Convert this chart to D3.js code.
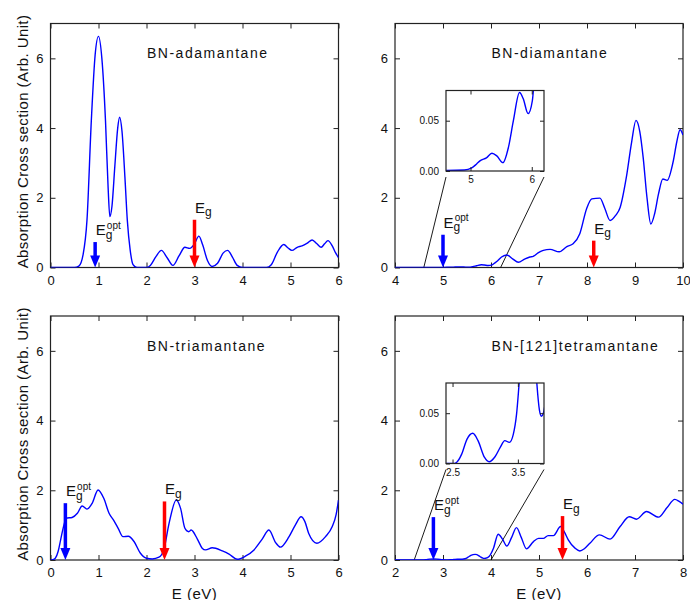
<!DOCTYPE html>
<html>
<head>
<meta charset="utf-8">
<script src="https://cdn.jsdelivr.net/npm/d3@7"></script>
<style>
	body { margin: 0; background: #fff; }
	text { font-family: Arial, "Liberation Sans", sans-serif; fill: #111; }
</style>
</head>
<body>
<svg id="chart" width="690" height="600"></svg>
<script>
// panel titles and axis ranges
const names = ['BN-adamantane', 'BN-diamantane', 'BN-triamantane', 'BN-[121]tetramantane'];
const xDomains = [[0, 6], [4, 10], [0, 6], [2, 8]];
const xTicks = [[0, 1, 2, 3, 4, 5, 6], [4, 5, 6, 7, 8, 9, 10], [0, 1, 2, 3, 4, 5, 6], [2, 3, 4, 5, 6, 7, 8]];
const yDomain = [0, 7];
const yTicks = [0, 2, 4, 6];

// absorption spectra, [E (eV), cross section]
const adamantane = [[0,0],[0.5,0],[0.59,0.04],[0.68,0.38],[0.76,1.36],[0.85,4.2],[0.93,6.1],[1.0,6.63],[1.07,6.0],[1.146,4.2],[1.2,2.3],[1.236,1.46],[1.28,1.75],[1.34,2.9],[1.4,4.0],[1.44,4.31],[1.49,3.9],[1.55,2.6],[1.6,1.36],[1.66,0.5],[1.72,0.08],[1.8,0],[2.0,0],[2.08,0.06],[2.2,0.32],[2.31,0.49],[2.43,0.28],[2.55,0.06],[2.68,0.34],[2.8,0.58],[2.9,0.55],[3.0,0.68],[3.09,0.9],[3.17,0.65],[3.27,0.2],[3.37,0.03],[3.48,0.12],[3.6,0.42],[3.69,0.49],[3.79,0.3],[3.89,0.06],[4.0,0],[4.5,0],[4.6,0.08],[4.73,0.45],[4.86,0.66],[4.95,0.56],[5.03,0.49],[5.14,0.58],[5.24,0.62],[5.35,0.7],[5.45,0.79],[5.55,0.68],[5.64,0.58],[5.71,0.68],[5.78,0.77],[5.87,0.62],[5.94,0.42],[6.0,0.28]];
const diamantane = [[4.0,0],[4.9,0.001],[5.02,0.003],[5.1,0.007],[5.16,0.0103],[5.26,0.013],[5.35,0.0177],[5.43,0.015],[5.53,0.0083],[5.62,0.0237],[5.7,0.05],[5.8,0.078],[5.86,0.072],[5.94,0.057],[6.01,0.07],[6.05,0.1],[6.12,0.17],[6.22,0.3],[6.33,0.36],[6.45,0.25],[6.57,0.15],[6.7,0.24],[6.81,0.3],[6.88,0.32],[6.98,0.42],[7.09,0.49],[7.23,0.52],[7.42,0.45],[7.58,0.6],[7.71,0.68],[7.85,0.97],[7.99,1.68],[8.1,1.97],[8.27,1.99],[8.37,1.7],[8.48,1.35],[8.6,1.5],[8.69,1.72],[8.82,2.59],[8.93,3.6],[9.02,4.22],[9.1,3.9],[9.17,3.16],[9.25,2.0],[9.33,1.25],[9.41,1.55],[9.49,2.11],[9.58,2.54],[9.67,2.5],[9.8,3.07],[9.87,3.6],[9.94,3.95],[10.0,3.8]];
const triamantane = [[0,0],[0.05,0.01],[0.1,0.05],[0.16,0.25],[0.21,0.57],[0.27,0.95],[0.33,1.2],[0.45,1.22],[0.56,1.34],[0.66,1.55],[0.76,1.46],[0.87,1.63],[0.99,2.01],[1.11,1.77],[1.22,1.34],[1.32,1.13],[1.41,0.91],[1.51,0.67],[1.62,0.68],[1.74,0.53],[1.87,0.2],[2.0,0.05],[2.12,0.03],[2.26,0.08],[2.36,0.29],[2.47,1.05],[2.62,1.72],[2.71,1.48],[2.8,0.91],[2.88,0.81],[2.93,0.86],[3.06,0.6],[3.16,0.34],[3.23,0.29],[3.37,0.35],[3.58,0.26],[3.72,0.17],[3.89,0.02],[4.06,0.11],[4.24,0.29],[4.41,0.6],[4.55,0.86],[4.69,0.5],[4.79,0.37],[4.97,0.67],[5.1,1.0],[5.22,1.24],[5.3,1.1],[5.38,0.76],[5.55,0.48],[5.73,0.67],[5.87,0.96],[5.95,1.3],[6.0,1.72]];
const tetramantane = [[2.0,0],[2.4,0],[2.51,0],[2.56,0.001],[2.64,0.0093],[2.72,0.024],[2.81,0.03],[2.89,0.0227],[2.99,0.006],[3.06,0.0017],[3.15,0.0067],[3.23,0.016],[3.3,0.0227],[3.37,0.021],[3.43,0.029],[3.48,0.049],[3.52,0.08],[3.58,0.13],[3.67,0.16],[3.75,0.12],[3.79,0.08],[3.83,0.053],[3.86,0.047],[3.89,0.05],[3.96,0.1],[4.05,0.33],[4.15,0.74],[4.24,0.6],[4.33,0.4],[4.43,0.65],[4.53,0.93],[4.63,0.65],[4.74,0.32],[4.88,0.52],[4.99,0.62],[5.09,0.62],[5.19,0.7],[5.3,0.7],[5.45,0.96],[5.53,0.8],[5.61,0.58],[5.75,0.34],[5.85,0.26],[5.95,0.33],[6.06,0.48],[6.26,0.72],[6.48,0.6],[6.69,0.96],[6.88,1.24],[7.03,1.17],[7.24,1.39],[7.49,1.23],[7.66,1.49],[7.83,1.74],[7.92,1.68],[8.0,1.6]];
const spectra = [adamantane, diamantane, triamantane, tetramantane];

// gap markers: arrow energy and arrow top (in y units)
const optGapE = [0.93, 5.0, 0.31, 2.8];
const optGapTop = [0.73, 0.94, 1.63, 1.23];
const gapE = [3.0, 8.14, 2.375, 5.49];
const gapTop = [1.37, 0.77, 1.68, 1.26];

// insets (zoom of the onset), null where there is none
const insetXDomains = [null, [4.6, 6.2], null, [2.4, 3.9]];
const insetXTicks = [null, [5, 6], null, [2.5, 3.5]];
const insetYDomain = [0, 0.08];
const insetYTicks = [0, 0.05];
const zoomTo = [null, [4.6, 6.2], null, [2.4, 4.0]];

// layout
const cols = [50.5, 395];
const rows = [23.5, 316];
const pw = 288, ph = 244;
const insetBox = {x: 446, w: 98, h: 80.5, dy: 67};

const svg = d3.select('#chart');
const defs = svg.append('defs');

const line = d3.line()
	.curve(d3.curveMonotoneX)
	.x(d => d[0]);

spectra.forEach((data, i) => {
	const left = cols[i % 2];
	const top = rows[Math.floor(i / 2)];

	const xScale = d3.scaleLinear().domain(xDomains[i]).range([0, pw]);
	const yScale = d3.scaleLinear().domain(yDomain).range([ph, 0]);

	const g = svg.append('g').attr('transform', `translate(${left},${top})`);

	defs.append('clipPath').attr('id', 'clip' + i)
		.append('rect').attr('width', pw).attr('height', ph);

	// axes, ticks pointing inwards on all four sides
	addAxes(g, xScale, yScale, xTicks[i], yTicks, 5, 13, d3.format('d'), d3.format('d'), 8, 7);

	// inset with connector lines
	if (insetXDomains[i]) {
		const ix = insetBox.x - left;
		const iy = insetBox.dy;
		const zs = zoomTo[i];
		g.append('g').selectAll('line')
			.data([[0, zs[0]], [insetBox.w, zs[1]]])
			.enter()
			.append('line')
				.attr('x1', d => ix + d[0])
				.attr('y1', iy + insetBox.h + 6)
				.attr('x2', d => xScale(d[1]))
				.attr('y2', yScale(0))
				.attr('stroke', '#000')
				.attr('stroke-width', 0.9);

		const ixScale = d3.scaleLinear().domain(insetXDomains[i]).range([0, insetBox.w]);
		const iyScale = d3.scaleLinear().domain(insetYDomain).range([insetBox.h, 0]);
		const ig = g.append('g').attr('transform', `translate(${ix},${iy})`);

		defs.append('clipPath').attr('id', 'iclip' + i)
			.append('rect').attr('width', insetBox.w).attr('height', insetBox.h);

		ig.append('rect')
			.attr('width', insetBox.w)
			.attr('height', insetBox.h)
			.attr('fill', '#fff');

		ig.append('path')
			.attr('clip-path', `url(#iclip${i})`)
			.attr('fill', 'none')
			.attr('stroke', '#0000ff')
			.attr('stroke-width', 1.4)
			.attr('d', line.x(d => ixScale(d[0])).y(d => iyScale(d[1]))(data));

		addAxes(ig, ixScale, iyScale, insetXTicks[i], insetYTicks, 4, 10, d3.format('~f'), d3.format('.2f'), 5, 7);
	}

	// spectrum
	g.append('path')
		.attr('clip-path', `url(#clip${i})`)
		.attr('fill', 'none')
		.attr('stroke', '#0000ff')
		.attr('stroke-width', 1.4)
		.attr('d', line.x(d => xScale(d[0])).y(d => yScale(d[1]))(data));

	// gap arrows
	addArrow(g, xScale(optGapE[i]), yScale(optGapTop[i]), yScale(0), '#0000ff', true);
	addArrow(g, xScale(gapE[i]), yScale(gapTop[i]), yScale(0), '#ff0000', false);

	// title
	g.append('text')
		.attr('x', 96.5)
		.attr('y', 34.5)
		.style('font-size', '14px')
		.style('letter-spacing', '1.5px')
		.text(names[i]);
});

// axis titles
[0, 1].forEach(r => {
	svg.append('text')
		.attr('transform', `translate(27.5,${rows[r] + ph / 2 - 4}) rotate(-90)`)
		.attr('text-anchor', 'middle')
		.style('font-size', '15px')
		.style('letter-spacing', '0.4px')
		.text('Absorption Cross section (Arb. Unit)');
});
cols.forEach(c => {
	svg.append('text')
		.attr('x', c + pw / 2)
		.attr('y', 598.5)
		.attr('text-anchor', 'middle')
		.style('font-size', '15px')
		.style('letter-spacing', '0.5px')
		.text('E (eV)');
});

function addAxes(g, x, y, xt, yt, tick, fontSize, fx, fy, padX, padY) {
	const [w, h] = [x.range()[1], y.range()[0]];
	const axes = [
		[d3.axisBottom(x).tickValues(xt).tickFormat(fx).tickPadding(padX), `translate(0,${h})`],
		[d3.axisTop(x).tickValues(xt).tickFormat(''), null],
		[d3.axisLeft(y).tickValues(yt).tickFormat(fy).tickPadding(padY), null],
		[d3.axisRight(y).tickValues(yt).tickFormat(''), `translate(${w},0)`]
	];
	axes.forEach(([axis, tr]) => {
		const a = g.append('g')
			.attr('transform', tr)
			.call(axis.tickSizeInner(-tick).tickSizeOuter(0));
		a.select('.domain').remove();
		a.selectAll('line').attr('stroke', '#222').attr('stroke-width', 1);
		a.selectAll('text')
			.attr('fill', '#111')
			.style('font-size', fontSize + 'px')
			.style('font-family', 'Arial, "Liberation Sans", sans-serif');
	});
	g.append('rect')
		.attr('width', w)
		.attr('height', h)
		.attr('fill', 'none')
		.attr('stroke', '#222')
		.attr('stroke-width', 1.2);
}

// arrow pointing down to the axis, with an E_g (or E_g^opt) label above it
function addArrow(g, x, yTop, yTip, color, opt) {
	const headLen = 12, headW = 5;
	g.append('line')
		.attr('x1', x).attr('x2', x)
		.attr('y1', yTop).attr('y2', yTip - headLen + 1)
		.attr('stroke', color)
		.attr('stroke-width', 3.5);
	g.append('path')
		.attr('d', `M${x - headW},${yTip - headLen}L${x + headW},${yTip - headLen}L${x},${yTip}Z`)
		.attr('fill', color);

	const label = g.append('text')
		.attr('x', x + 0.5)
		.attr('y', yTop - 7)
		.style('font-size', '15px')
		.text('E');
	label.append('tspan')
		.attr('dy', 3.5)
		.style('font-size', '12px')
		.text('g');
	if (opt) {
		label.append('tspan')
			.attr('dx', -5.5)
			.attr('dy', -10)
			.style('font-size', '10px')
			.text('opt');
	}
}
</script>
</body>
</html>
